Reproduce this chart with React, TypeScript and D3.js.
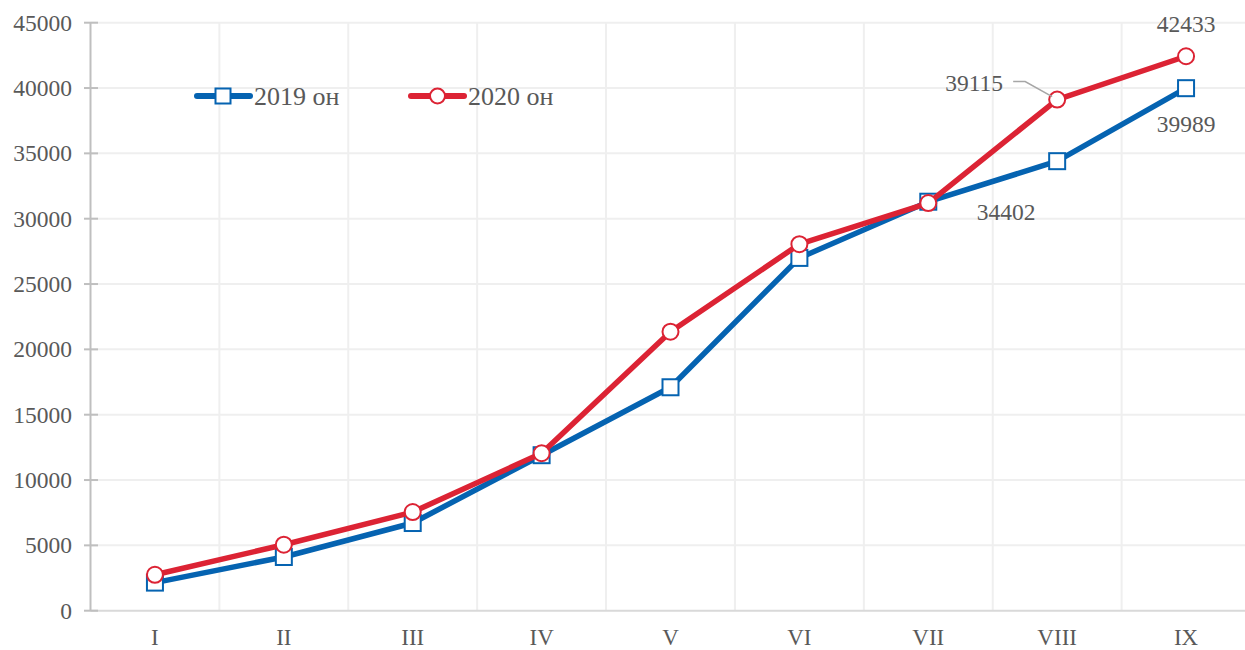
import * as d3 from "d3";

// categories (months) and the two series
const months = ["I", "II", "III", "IV", "V", "VI", "VII", "VIII", "IX"];
const values2019 = [2150, 4110, 6710, 11900, 17100, 27000, 31300, 34402, 39989];
const values2020 = [2750, 5050, 7550, 12050, 21350, 28050, 31200, 39115, 42433];
const yTicks = [0, 5000, 10000, 15000, 20000, 25000, 30000, 35000, 40000, 45000];

const BLUE = "#0563b1";
const RED = "#dc2334";
const TEXT = "#595959";
const FONT = "'Liberation Serif', 'Times New Roman', serif";

const W = 1245;
const H = 650;

const App = () => {
  const x = d3.scaleBand<string>().domain(months).range([90.5, 1250.5]);
  const cx = (m: string) => (x(m) ?? 0) + x.bandwidth() / 2;
  const y = d3.scaleLinear().domain([0, 45000]).range([610.7, 22.7]);

  const line = d3
    .line<number>()
    .x((_, i) => cx(months[i]))
    .y((d) => y(d));

  // vertical gridlines at band edges
  const bandEdges = months.slice(1).map((m) => x(m) ?? 0);

  const last = months.length - 1;

  return (
    <div style={{ position: "absolute", left: 0, top: 0 }}>
      <svg width={W} height={H} style={{ display: "block", background: "#fff" }} fontFamily={FONT}>
        {/* grid */}
        {yTicks.slice(1).map((t) => (
          <line key={"h" + t} x1={90.5} x2={W} y1={y(t)} y2={y(t)} stroke="#efefef" strokeWidth={2} />
        ))}
        {bandEdges.map((e, i) => (
          <line key={"v" + i} x1={e} x2={e} y1={y(45000)} y2={y(0)} stroke="#efefef" strokeWidth={2} />
        ))}

        {/* axes */}
        <line x1={90.5} x2={W} y1={y(0)} y2={y(0)} stroke="#d9d9d9" strokeWidth={2} />
        <line x1={90.5} x2={90.5} y1={y(45000)} y2={y(0)} stroke="#bfbfbf" strokeWidth={2} />
        {yTicks.map((t) => (
          <g key={"t" + t}>
            <line x1={84} x2={98} y1={y(t)} y2={y(t)} stroke="#bfbfbf" strokeWidth={2} />
            <text x={72} y={y(t)} dy="0.34em" textAnchor="end" fontSize={23.5} fill={TEXT}>
              {t}
            </text>
          </g>
        ))}
        {months.map((m) => (
          <text key={"m" + m} x={cx(m)} y={645} textAnchor="middle" fontSize={23} fill={TEXT}>
            {m}
          </text>
        ))}

        {/* 2019 series */}
        <path d={line(values2019) ?? ""} fill="none" stroke={BLUE} strokeWidth={5.5} strokeLinejoin="round" />
        {values2019.map((v, i) => (
          <rect
            key={"s" + i}
            x={cx(months[i]) - 8}
            y={y(v) - 8}
            width={16}
            height={16}
            fill="#fff"
            stroke={BLUE}
            strokeWidth={2}
          />
        ))}

        {/* 2020 series */}
        <path d={line(values2020) ?? ""} fill="none" stroke={RED} strokeWidth={5.5} strokeLinejoin="round" />
        {values2020.map((v, i) => (
          <circle key={"c" + i} cx={cx(months[i])} cy={y(v)} r={8} fill="#fff" stroke={RED} strokeWidth={2} />
        ))}

        {/* data labels */}
        <text x={cx(months[last])} y={y(values2020[last]) - 24} textAnchor="middle" fontSize={23.5} fill={TEXT}>
          {values2020[last]}
        </text>
        <text x={cx(months[last])} y={y(values2019[last]) + 44} textAnchor="middle" fontSize={23.5} fill={TEXT}>
          {values2019[last]}
        </text>
        <text x={cx(months[last - 1]) - 51} y={y(values2019[last - 1]) + 59} textAnchor="middle" fontSize={23.5} fill={TEXT}>
          {values2019[last - 1]}
        </text>
        <text x={cx(months[last - 1]) - 83} y={y(values2020[last - 1]) - 9} textAnchor="middle" fontSize={23.5} fill={TEXT}>
          {values2020[last - 1]}
        </text>
        <polyline
          points={`${cx(months[last - 1]) - 44},${y(values2020[last - 1]) - 18} ${cx(months[last - 1]) - 32},${y(values2020[last - 1]) - 18} ${cx(months[last - 1]) - 5},${y(values2020[last - 1]) - 3}`}
          fill="none"
          stroke="#a6a6a6"
          strokeWidth={1.5}
        />

        {/* legend */}
        <g>
          <line x1={197} x2={250} y1={96} y2={96} stroke={BLUE} strokeWidth={6} strokeLinecap="round" />
          <rect x={215.5} y={88.5} width={15} height={15} fill="#fff" stroke={BLUE} strokeWidth={2} />
          <text x={254} y={105} fontSize={26} fill={TEXT}>
            2019 он
          </text>
          <line x1={411} x2={464} y1={96} y2={96} stroke={RED} strokeWidth={6} strokeLinecap="round" />
          <circle cx={437.5} cy={96} r={7.5} fill="#fff" stroke={RED} strokeWidth={2} />
          <text x={468} y={105} fontSize={26} fill={TEXT}>
            2020 он
          </text>
        </g>
      </svg>
    </div>
  );
};

export default App;
